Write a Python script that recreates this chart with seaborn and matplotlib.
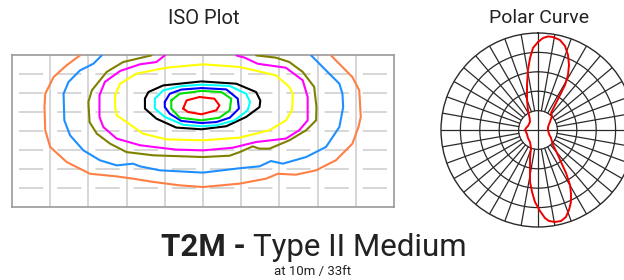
import numpy as np
import pandas as pd
import matplotlib
matplotlib.use("Agg")
import matplotlib.pyplot as plt
import seaborn as sns

sns.set_theme(style="white")
plt.rcParams['font.family'] = ['Roboto', 'DejaVu Sans']
plt.rcParams['lines.scale_dashes'] = False

# ---------------- ISO plot data (grid units, pole at origin) ----------------
red_x = [-0.52, -0.43, -0.09, 0.30, 0.43, 0.35, -0.04, -0.39]
red_y = [1.18, 1.61, 1.79, 1.70, 1.35, 1.09, 0.88, 1.00]

green_x = [-0.83, -0.61, -0.04, 0.48, 0.74, 0.70, 0.43, -0.04, -0.61, -0.83]
green_y = [1.61, 1.96, 2.11, 2.05, 1.70, 1.09, 0.70, 0.56, 0.70, 1.18]

blue_x = [-1.00, -0.87, -0.57, -0.04, 0.61, 0.91, 0.94, 0.70, 0.35, -0.04, -0.57, -0.87, -1.00]
blue_y = [1.53, 1.96, 2.18, 2.26, 2.19, 1.70, 1.18, 0.70, 0.47, 0.42, 0.53, 0.91, 1.26]

cyan_x = [-1.26, -1.04, -0.61, -0.04, 0.70, 1.13, 1.23, 1.17, 0.83, 0.35, -0.04, -0.52, -1.00, -1.26]
cyan_y = [1.70, 2.14, 2.35, 2.44, 2.37, 1.96, 1.53, 1.09, 0.56, 0.30, 0.25, 0.33, 0.74, 1.18]

black_x = [-1.52, -1.43, -1.04, -0.04, 0.87, 1.39, 1.50, 1.48, 1.13, 0.61, -0.04, -0.70, -1.22, -1.52]
black_y = [1.70, 2.05, 2.40, 2.61, 2.49, 2.05, 1.61, 1.26, 0.74, 0.25, 0.09, 0.18, 0.65, 1.18]

yellow_x = [-2.30, -2.17, -1.74, -0.96, 0.00, 0.96, 1.91, 2.26, 2.35, 2.33, 2.17, 1.74, 0.96,
            0.00, -0.96, -1.57, -2.00, -2.26, -2.30]
yellow_y = [1.88, 2.49, 3.02, 3.33, 3.51, 3.37, 2.93, 2.32, 1.96, 1.09, 0.56, 0.04, -0.35,
            -0.49, -0.44, -0.14, 0.47, 0.82, 1.26]

magenta_x = [-1.00, -1.22, -1.65, -2.17, -2.57, -2.71, -2.71, -2.61, -2.26, -1.65, -1.13, -0.70,
             0.00, 0.78, 1.39, 2.17, 2.52, 2.74, 2.74, 2.61, 2.17, 1.43, 1.09, 0.87]
magenta_y = [3.98, 3.63, 3.51, 3.16, 2.58, 1.88, 0.74, 0.21, -0.40, -0.75, -0.88, -0.98,
             -1.02, -0.88, -0.58, -0.40, 0.04, 0.56, 1.79, 2.67, 3.33, 3.54, 3.86, 3.98]

olive_x = [-1.35, -2.09, -2.52, -2.91, -3.00, -2.97, -2.78, -2.43, -2.00, -1.30, 0.00, 0.70, 0.96,
           1.30, 1.48, 1.74, 2.26, 2.70, 2.96, 2.97, 2.91, 2.61, 2.26, 1.91, 1.39]
olive_y = [3.98, 3.63, 3.11, 2.14, 1.53, 0.47, -0.14, -0.67, -1.11, -1.28, -1.37, -1.30, -1.11,
           -0.81, -0.93, -0.93, -0.49, 0.04, 0.56, 1.26, 2.32, 3.11, 3.63, 3.86, 3.98]

sky_x = [-2.65, -2.87, -3.22, -3.52, -3.65, -3.63, -3.48, -3.13, -2.70, -2.26, -1.83, -1.65, -1.13,
         0.00, 0.96, 1.48, 1.78, 2.09, 2.70, 3.22, 3.57, 3.67, 3.65, 3.57, 3.22, 2.83]
sky_y = [3.98, 3.54, 3.19, 2.58, 1.96, 0.56, -0.23, -1.02, -1.54, -1.81, -1.72, -1.86, -2.07,
         -2.19, -1.96, -1.86, -1.58, -1.72, -1.37, -0.84, 0.21, 1.26, 1.96, 2.49, 3.19, 3.98]

orange_x = [-3.22, -3.57, -3.91, -4.13, -4.15, -4.13, -4.00, -3.57, -2.96, -2.26, -1.83, -1.30,
            -0.61, 0.00, 0.96, 1.65, 1.96, 2.43, 2.96, 3.48, 3.91, 4.07, 4.13, 4.09, 3.91, 3.65, 3.35]
orange_y = [3.98, 3.46, 2.84, 1.96, 1.26, 0.04, -0.84, -1.63, -2.25, -2.39, -2.51, -2.68,
            -2.86, -2.95, -2.77, -2.51, -2.25, -2.30, -2.07, -1.54, -0.67, 0.21, 0.74, 2.14, 2.84, 3.37, 3.98]

contours = [
    ("orange", orange_x, orange_y, "#FF7F45", False),
    ("sky", sky_x, sky_y, "#1E8FFF", False),
    ("olive", olive_x, olive_y, "#808000", False),
    ("magenta", magenta_x, magenta_y, "#FF00FF", False),
    ("yellow", yellow_x, yellow_y, "#FFFF00", True),
    ("black", black_x, black_y, "#000000", True),
    ("cyan", cyan_x, cyan_y, "#00FFFF", True),
    ("blue", blue_x, blue_y, "#0000FF", True),
    ("green", green_x, green_y, "#00E000", True),
    ("red", red_x, red_y, "#FF0000", True),
]

# ---------------- Polar curve data (deg clockwise from 0 = up, % of max) ----------------
polar_angle = [0.0, 3.1, 6.1, 9.2, 13.7, 17.8, 21.8, 25.5, 28.6, 31.0, 32.2, 34.2, 37.4, 45.0,
               56.0, 73.3, 90.0, 110.0, 121.6, 135.0, 140.4, 144.3, 146.9, 149.8, 152.7, 155.4,
               158.8, 162.2, 165.8, 169.5, 173.1, 175.5, 178.6, 182.4, 185.5, 188.7, 191.3,
               195.9, 201.3, 213.7, 231.3, 250.0, 270.0, 279.5, 291.8, 315.0, 324.6, 333.4,
               339.9, 346.3, 350.5, 353.7, 356.5]
polar_value = [90.7, 95.0, 97.0, 97.1, 95.5, 91.0, 83.3, 74.2, 64.6, 54.1, 42.6, 31.2, 22.1, 20.4,
               14.9, 10.8, 10.3, 12.1, 15.7, 21.9, 30.8, 40.6, 52.9, 65.6, 74.2, 81.6,
               88.4, 94.2, 96.8, 96.4, 94.5, 91.0, 83.5, 74.3, 64.2, 54.2, 42.1,
               30.0, 19.9, 14.9, 13.2, 12.1, 13.4, 12.5, 11.1, 11.7, 14.8, 23.1,
               32.9, 47.8, 62.7, 74.7, 84.7]

title_main_bold = "T2M - "
title_main_rest = "Type II Medium"
subtitle = "at 10m / 33ft"

W, H = 624, 280
fig = plt.figure(figsize=(W / 100, H / 100), dpi=100)

def px2pt(v):
    return v * 72 / 100

# ---------------- ISO plot ----------------
ax = fig.add_axes([12 / W, (H - 207) / H, 382 / W, 152 / H])
ax.set_xlim(-5, 5)
ax.set_ylim(-4, 4)
grid_c = "#d6d6d6"
for gy in range(-3, 4):
    ln = ax.axhline(gy, color=grid_c, lw=1.4, zorder=0)
    ln.set_linestyle((px2pt(31.2), (px2pt(24.2), px2pt(14))))
for gx in range(-4, 5):
    ax.axvline(gx, color=grid_c, lw=1.4, zorder=0)

for name, xs, ys, col, closed in contours:
    xx = list(xs) + ([xs[0]] if closed else [])
    yy = list(ys) + ([ys[0]] if closed else [])
    df = pd.DataFrame({"x": xx, "y": yy})
    sns.lineplot(data=df, x="x", y="y", sort=False, estimator=None, color=col,
                 lw=1.5, ax=ax, zorder=3)
ax.set_xticks([])
ax.set_yticks([])
ax.set_xlabel("")
ax.set_ylabel("")
for s in ["left", "top", "bottom", "right"]:
    ax.spines[s].set_color("#999999")
    ax.spines[s].set_linewidth(1.2)

# ---------------- Polar plot ----------------
pax = fig.add_axes([441 / W, (H - 227) / H, 194 / W, 194 / H], projection="polar")
pax.set_theta_zero_location("N")
pax.set_theta_direction(-1)
pax.set_ylim(0, 100)
pax.grid(False)
gc = "#2a2a2a"
tt = np.linspace(0, 2 * np.pi, 361)
for rr in [20, 40, 60, 80]:
    pax.plot(tt, np.full_like(tt, rr), color=gc, lw=0.9, zorder=1)
for a in range(0, 360, 10):
    r0 = 0 if a % 90 == 0 else 20
    pax.plot([np.deg2rad(a)] * 2, [r0, 100], color=gc, lw=0.9, zorder=1)
pax.spines["polar"].set_color(gc)
pax.spines["polar"].set_linewidth(1.0)
pang = np.deg2rad(polar_angle + [polar_angle[0]])
pval = polar_value + [polar_value[0]]
pdf = pd.DataFrame({"theta": pang, "r": pval})
sns.lineplot(data=pdf, x="theta", y="r", sort=False, estimator=None, color="#EE0000",
             lw=1.4, ax=pax, zorder=3)
pax.set_xlabel("")
pax.set_ylabel("")
pax.set_xticks([])
pax.set_yticks([])
pax.set_ylim(0, 100)

# ---------------- Texts ----------------
tc = "#222222"
fig.text(204 / W, 1 - 18 / H, "ISO Plot", ha="center", va="center", fontsize=14.5, color=tc)
fig.text(539 / W, 1 - 18 / H, "Polar Curve", ha="center", va="center", fontsize=14, color=tc)

yb = 1 - 256 / H
t1 = fig.text(0, yb, title_main_bold, ha="left", va="baseline", fontsize=22.5,
              fontweight="bold", color=tc)
t2 = fig.text(0, yb, title_main_rest, ha="left", va="baseline", fontsize=22.5, color=tc)
fig.canvas.draw()
r = fig.canvas.get_renderer()
w1 = t1.get_window_extent(r).width
w2 = t2.get_window_extent(r).width
x0 = 314 - (w1 + w2) / 2
t1.set_x(x0 / W)
t2.set_x((x0 + w1) / W)
fig.text(313 / W, 1 - 272 / H, subtitle, ha="center", va="center", fontsize=9.5, color=tc)

fig.savefig("out.png", dpi=100)
